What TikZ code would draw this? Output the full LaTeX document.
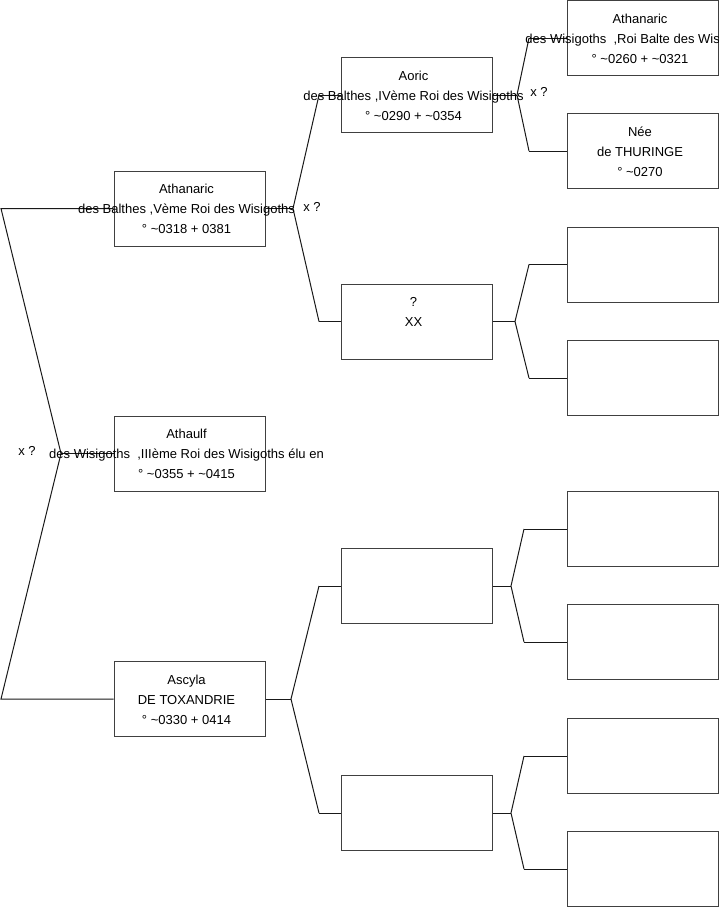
\documentclass[tikz,border=0pt]{standalone}
\usepackage{fontspec}
\setmainfont{Liberation Sans}
\begin{document}
\begin{tikzpicture}[x=1pt,y=-1pt,
  box/.style={draw=black!75,line width=1pt,minimum width=151pt,minimum height=75pt,inner sep=0pt},
  txt/.style={anchor=north,inner sep=0pt,align=center,font=\fontsize{13}{20}\selectfont,yshift=-13.5pt,xshift=-3pt},
  lbl/.style={inner sep=0pt,font=\fontsize{13}{14}\selectfont},
  conn/.style={draw=black!90,line width=1pt}]
\useasboundingbox (0,0) rectangle (719,908);
\clip (0,0) rectangle (719,908);
\fill[white] (0,0) rectangle (719,908);
% generation 1
\node[box] (A1) at (189.5,208.5) {};
\node[box] (A2) at (189.5,453.5) {};
\node[box] (A3) at (189.5,699) {};
% generation 2
\node[box] (B1) at (416.5,95) {};
\node[box] (B2) at (416.5,321.5) {};
\node[box] (B3) at (416.5,586) {};
\node[box] (B4) at (416.5,813) {};
% generation 3
\node[box] (C1) at (643,38) {};
\node[box] (C2) at (643,151) {};
\node[box] (C3) at (643,264.5) {};
\node[box] (C4) at (643,378) {};
\node[box] (C5) at (643,529) {};
\node[box] (C6) at (643,642) {};
\node[box] (C7) at (643,756) {};
\node[box] (C8) at (643,869) {};
% fork coordinates
\coordinate (r1) at (1,208.5);
\coordinate (r2) at (1,699);
\coordinate (rf) at (61,453.5);
\coordinate (f1) at (293,208.5);
\coordinate (f1a) at (319,95);
\coordinate (f1b) at (319,321.5);
\coordinate (f3) at (291,699);
\coordinate (f3a) at (319,586);
\coordinate (f3b) at (319,813);
\coordinate (g1) at (517,95);
\coordinate (g1a) at (529,38);
\coordinate (g1b) at (529,151);
\coordinate (g2) at (515,321.5);
\coordinate (g2a) at (529,264.5);
\coordinate (g2b) at (529,378);
\coordinate (g3) at (511,586);
\coordinate (g3a) at (524,529);
\coordinate (g3b) at (524,642);
\coordinate (g4) at (511,813);
\coordinate (g4a) at (524,756);
\coordinate (g4b) at (524,869);
% connectors
\draw[conn] (A1.west) -- (r1) -- (rf) -- (r2) -- (A3.west);
\draw[conn] (rf) -- (A2.west);
\draw[conn] (A1.east) -- (f1);
\draw[conn] (f1a) -- (f1) -- (f1b);
\draw[conn] (f1a) -- (B1.west);
\draw[conn] (f1b) -- (B2.west);
\draw[conn] (A3.east) -- (f3);
\draw[conn] (f3a) -- (f3) -- (f3b);
\draw[conn] (f3a) -- (B3.west);
\draw[conn] (f3b) -- (B4.west);
\draw[conn] (B1.east) -- (g1);
\draw[conn] (g1a) -- (g1) -- (g1b);
\draw[conn] (g1a) -- (C1.west);
\draw[conn] (g1b) -- (C2.west);
\draw[conn] (B2.east) -- (g2);
\draw[conn] (g2a) -- (g2) -- (g2b);
\draw[conn] (g2a) -- (C3.west);
\draw[conn] (g2b) -- (C4.west);
\draw[conn] (B3.east) -- (g3);
\draw[conn] (g3a) -- (g3) -- (g3b);
\draw[conn] (g3a) -- (C5.west);
\draw[conn] (g3b) -- (C6.west);
\draw[conn] (B4.east) -- (g4);
\draw[conn] (g4a) -- (g4) -- (g4b);
\draw[conn] (g4a) -- (C7.west);
\draw[conn] (g4b) -- (C8.west);
% texts
\node[txt] (tA1) at (A1.north) {Athanaric\\des Balthes ,Vème Roi des Wisigoths\\° \textasciitilde0318 + 0381};
\node[txt] (tA2) at (A2.north) {Athaulf\\des Wisigoths\ \ ,IIIème Roi des Wisigoths élu en\\° \textasciitilde0355 + \textasciitilde0415};
\node[txt] (tA3) at (A3.north) {Ascyla\\DE TOXANDRIE\\° \textasciitilde0330 + 0414};
\node[txt] (tB1) at (B1.north) {Aoric\\des Balthes ,IVème Roi des Wisigoths\\° \textasciitilde0290 + \textasciitilde0354};
\node[txt] (tB2) at (B2.north) {?\\XX};
\node[txt] (tC1) at (C1.north) {Athanaric\\des Wisigoths\ \ ,Roi Balte des Wisigoths\\° \textasciitilde0260 + \textasciitilde0321};
\node[txt] (tC2) at (C2.north) {Née\\de THURINGE\\° \textasciitilde0270};
% marriage labels
\node[lbl] (x0) at (27,451) {x ?};
\node[lbl] (x1) at (312,207) {x ?};
\node[lbl] (x2) at (539,92) {x ?};
\end{tikzpicture}
\end{document}
